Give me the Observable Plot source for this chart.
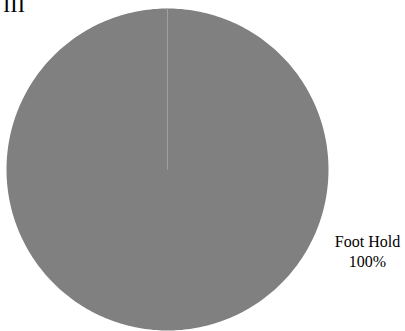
<!DOCTYPE html>
<html>
<head>
<meta charset="utf-8">
<script src="https://cdn.jsdelivr.net/npm/d3@7"></script>
<script src="https://cdn.jsdelivr.net/npm/@observablehq/plot@0.6"></script>
<style>
  html, body { margin: 0; padding: 0; background: #fff; }
  #wrap { position: relative; width: 405px; height: 331px; overflow: hidden; }
  #title { position: absolute; left: 3px; top: -6px; font-family: "Liberation Serif", serif; font-size: 22px; color: #000; line-height: 1; }
</style>
</head>
<body>
<div id="wrap">
  <div id="chart"></div>
  <div id="title">III</div>
</div>
<script>
const categories = ["Foot Hold"];
const values = [1];
const colors = ["#808080"];
const labels = ["Foot Hold", "100%"];

const pie = d3.pie().sort(null).value(d => d)(values);
const arcPts = [];
pie.forEach((s, i) => {
  const n = 360;
  const pts = [];
  pts.push({x: 0, y: 0, cat: categories[i]});
  for (let k = 0; k <= n; k++) {
    const a = s.startAngle + (s.endAngle - s.startAngle) * k / n;
    pts.push({x: Math.sin(a), y: Math.cos(a), cat: categories[i]});
  }
  pts.push({x: 0, y: 0, cat: categories[i]});
  arcPts.push(...pts);
});
const seams = pie.map((s, i) => ({x1: 0, y1: 0, x2: Math.sin(s.startAngle), y2: Math.cos(s.startAngle)}));

const chart = Plot.plot({
  width: 405,
  height: 331,
  marginLeft: 6,
  marginRight: 77,
  marginTop: 8,
  marginBottom: 1,
  x: {domain: [-1, 1], axis: null},
  y: {domain: [-1, 1], axis: null},
  color: {domain: categories, range: colors},
  marks: [
    Plot.line(arcPts, {x: "x", y: "y", z: "cat", fill: "cat", stroke: null, curve: "linear"}),
    Plot.link(seams, {x1: "x1", y1: "y1", x2: "x2", y2: "y2", stroke: "#a0a0a0", strokeWidth: 1}),
    Plot.text([labels.join("\n")], {frameAnchor: "right", dx: 39, dy: 81, text: d => d, textAnchor: "middle", lineHeight: 1.25, fontFamily: "Liberation Serif", fontSize: 16, fill: "#000"})
  ]
});
document.getElementById("chart").appendChild(chart);
</script>
</body>
</html>
